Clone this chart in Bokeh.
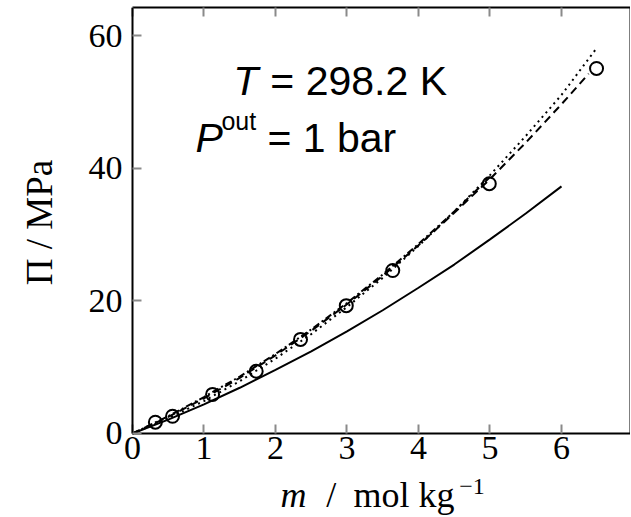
import math
from bokeh.plotting import figure
from bokeh.models import Range1d, LinearAxis, Label, FixedTicker
from bokeh.embed import file_html
from bokeh.resources import INLINE

# ---- data ----
m_exp = [0.32, 0.56, 1.12, 1.73, 2.35, 2.99, 3.64, 4.99, 6.49]
pi_exp = [1.7, 2.6, 5.9, 9.4, 14.2, 19.3, 24.6, 37.7, 55.1]

m_solid = [0, 0.5, 1, 1.5, 2, 2.5, 3, 3.5, 4, 4.5, 5, 5.5, 6]
pi_solid = [0, 2.1, 4.4, 6.9, 9.6, 12.4, 15.4, 18.6, 22.0, 25.5, 29.3, 33.2, 37.3]

m_dash = [0, 0.5, 1, 1.5, 2, 2.5, 3, 3.5, 4, 4.5, 5, 5.5, 6, 6.38]
pi_dash = [0, 2.5, 5.3, 8.4, 11.8, 15.5, 19.5, 23.8, 28.4, 33.3, 38.4, 43.9, 49.7, 54.3]

m_dot = [0, 0.5, 1, 1.5, 2, 2.5, 3, 3.5, 4, 4.5, 5, 5.5, 6, 6.48]
pi_dot = [0, 2.3, 4.9, 7.9, 11.3, 15.0, 19.1, 23.5, 28.3, 33.5, 39.0, 44.9, 51.1, 58.0]

m_dd = [0, 0.5, 1, 1.5, 2, 2.5, 3, 3.5, 4, 4.5, 5.0]
pi_dd = [0, 2.6, 5.5, 8.6, 12.0, 15.7, 19.7, 24.0, 28.6, 33.5, 38.7]

x_ticks = [0, 1, 2, 3, 4, 5, 6, 7]
y_ticks = [0, 20, 40, 60]

SERIF = "Liberation Serif"
SANS = "Liberation Sans"

X_MIN, X_MAX = -1.846, 6.965
Y_MIN, Y_MAX = -12.53, 64.3

p = figure(width=630, height=516, x_range=Range1d(X_MIN, X_MAX), y_range=Range1d(Y_MIN, Y_MAX),
           output_backend="svg", toolbar_location=None,
           min_border_left=0, min_border_right=0, min_border_top=7, min_border_bottom=0,
           x_axis_location=None, y_axis_location=None)
p.grid.visible = False
p.outline_line_color = None
p.background_fill_color = "white"
p.border_fill_color = "white"

def style_axis(ax, show_labels=True):
    ax.axis_line_color = "black"
    ax.axis_line_width = 2
    ax.major_tick_in = 9
    ax.major_tick_out = 0
    ax.major_tick_line_color = "#8a8a8a"
    ax.major_tick_line_width = 2
    ax.minor_tick_line_color = None
    if show_labels:
        ax.major_label_text_font = SERIF
        ax.major_label_text_font_size = "34px"
        ax.major_label_text_color = "black"
    else:
        ax.major_label_text_font_size = "1px"
        ax.major_label_text_color = None
        ax.major_label_standoff = 0

xb = LinearAxis(ticker=FixedTicker(ticks=x_ticks), fixed_location=0, bounds=(0, X_MAX))
style_axis(xb)
xb.major_label_standoff = 4
p.add_layout(xb, "below")

xt = LinearAxis(ticker=FixedTicker(ticks=x_ticks), bounds=(0, X_MAX))
style_axis(xt, show_labels=False)
p.add_layout(xt, "above")

yl = LinearAxis(ticker=FixedTicker(ticks=y_ticks), fixed_location=0, bounds=(0, Y_MAX))
style_axis(yl)
yl.major_label_standoff = 10
p.add_layout(yl, "left")

yr = LinearAxis(ticker=FixedTicker(ticks=y_ticks), fixed_location=X_MAX, bounds=(0, Y_MAX))
style_axis(yr, show_labels=False)
yr.major_tick_line_color = None
p.add_layout(yr, "right")

# curves
p.line(m_solid, pi_solid, line_color="black", line_width=2)
p.line(m_dash, pi_dash, line_color="black", line_width=2, line_dash="8 5")
p.line(m_dot, pi_dot, line_color="black", line_width=2, line_dash="2 4")
p.line(m_dd, pi_dd, line_color="black", line_width=2, line_dash="7 3 2 3")
p.scatter(m_exp, pi_exp, marker="circle", size=13, fill_color=None,
          line_color="black", line_width=2)

def lab(x, y, text, size, font=SANS, style="normal", xo=0, align="left", angle=0):
    p.add_layout(Label(x=x, y=y, text=text, x_offset=xo, angle=angle,
                       text_font=font, text_font_size=size,
                       text_font_style=style, text_color="black",
                       text_align=align, text_baseline="alphabetic"))

# annotation text
lab(1.41, 53.2, "T", "41px", style="italic")
lab(1.41, 53.2, "= 298.2 K", "41px", xo=37)
lab(0.88, 44.6, "P", "41px", style="italic")
lab(0.88, 47.1, "out", "25px", xo=26)
lab(0.88, 44.6, "= 1 bar", "41px", xo=72)

# axis titles
lab(-1.30, 31.85, "Π / MPa", "37px", font=SERIF, align="center", angle=math.pi / 2)
lab(2.07, -9.36, "m", "36px", font=SERIF, style="italic")
lab(2.71, -9.36, "/", "36px", font=SERIF)
lab(3.09, -9.36, "mol kg", "36px", font=SERIF)
lab(4.57, -8.06, "−1", "24px", font=SERIF)

open("out.html", "w").write(file_html(p, INLINE))
